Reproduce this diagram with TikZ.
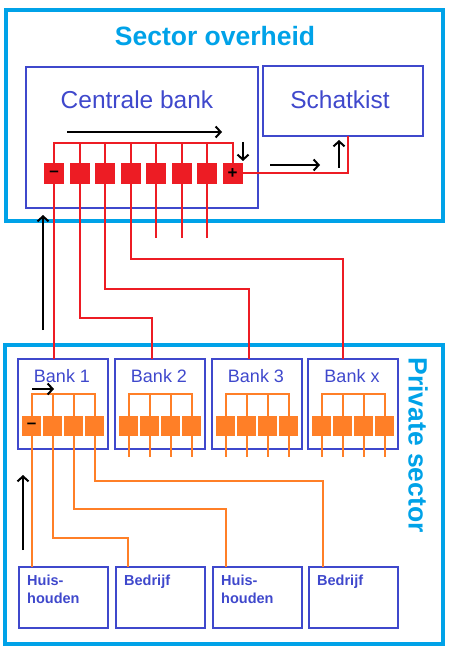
\documentclass[tikz,border=0pt]{standalone}
\usepackage{fontspec}
\setmainfont{Liberation Sans}
\usetikzlibrary{positioning,arrows.meta}
\definecolor{skyline}{HTML}{00A2E8}
\definecolor{boxblue}{HTML}{3F48CC}
\definecolor{cbred}{HTML}{ED1C24}
\definecolor{bkorange}{HTML}{FF7F27}
\tikzset{
	sector/.style={draw=skyline,line width=3.5pt},
	title/.style={text=skyline,font=\bfseries\fontsize{26.5}{30}\selectfont},
	instbox/.style={draw=boxblue,line width=2.5pt,anchor=north west,inner sep=0pt,outer sep=0pt},
	bigtext/.style={font=\fontsize{24.5}{28}\selectfont},
	banktext/.style={font=\fontsize{18}{21}\selectfont},
	smalltext/.style={font=\bfseries\fontsize{14.5}{18}\selectfont,align=left,anchor=north west,inner sep=0pt},
	redsq/.style={fill=cbred,minimum width=20pt,minimum height=21pt,inner sep=0pt,outer sep=0pt},
	orsq/.style={fill=bkorange,minimum width=19pt,minimum height=20pt,inner sep=0pt,outer sep=0pt},
	sign/.style={text=black,font=\bfseries\fontsize{17}{17}\selectfont,inner sep=0pt},
	redwire/.style={draw=cbred,line width=2pt},
	orwire/.style={draw=bkorange,line width=2pt},
	flow/.style={-{Straight Barb[length=5pt,width=11pt]},line width=2pt,black}
}
\begin{document}
\begin{tikzpicture}[x=1pt,y=-1pt,every node/.style={text=boxblue}]
	\useasboundingbox (0,0) rectangle (450,652);

	% sector overheid
	\draw[sector] (6,10) rectangle (443,221);
	\node[title] (overheid) at (215,36) {Sector overheid};
	\node[instbox,minimum width=232pt,minimum height=141pt] (cb) at (26,67) {};
	\node[bigtext] (cbtext) at (137,100) {Centrale bank};
	\node[instbox,minimum width=160pt,minimum height=70pt] (sk) at (263,66) {};
	\node[bigtext] (sktext) at (340,100) {Schatkist};

	\foreach \i in {1,...,8}
		\node[redsq] (cb\i) at ({28.5+25.5*\i},173.5) {};
	\node[sign] at (cb1) {--};
	\node[sign] at (cb8) {+};

	\draw[redwire] (cb1.north) -- ++(0,-20) -| (cb8.north);
	\foreach \i in {2,...,7}
		\draw[redwire] (cb\i.north) -- ++(0,-20);
	\draw[redwire] (cb8.east) -| ([xshift=85pt]sk.south west);

	% private sector
	\draw[sector] (5,345) rectangle (443,644);
	\node[title,rotate=-90] (private) at (418,445) {Private sector};

	\foreach \bk/\lx/\lab in {b1/18/Bank 1,b2/115/Bank 2,b3/212/Bank 3,bx/308/Bank x}{
		\node[instbox,minimum width=90pt,minimum height=90pt] (\bk) at (\lx,359) {};
		\node[banktext] at (\lx+44,376) {\lab};
		\foreach \k in {1,...,4}
			\node[orsq] (\bk-\k) at ({\lx-7.5+21*\k},426) {};
		\draw[orwire] (\bk-1.north) -- ++(0,-22) -| (\bk-4.north);
		\draw[orwire] (\bk-2.north) -- ++(0,-22);
		\draw[orwire] (\bk-3.north) -- ++(0,-22);
	}
	\node[sign] at (b1-1) {--};
	\foreach \bk in {b2,b3,bx}
		\foreach \k in {1,...,4}
			\draw[orwire] (\bk-\k.south) -- ++(0,21);

	\foreach \hh/\lx/\lab in {h1/19/{Huis-\\houden},f1/116/Bedrijf,h2/213/{Huis-\\houden},f2/309/Bedrijf}{
		\node[instbox,minimum width=89pt,minimum height=61pt] (\hh) at (\lx,567) {};
		\node[smalltext] at (\lx+8,575) {\lab};
	}

	% reserves from central bank to banks
	\draw[redwire] (cb1.south) -- (cb1.south |- b1.north);
	\draw[redwire] (cb2.south) |- ([shift={(37,-41)}]b2.north west) -- ([xshift=37pt]b2.north west);
	\draw[redwire] (cb3.south) |- ([shift={(37,-70)}]b3.north west) -- ([xshift=37pt]b3.north west);
	\draw[redwire] (cb4.south) |- ([shift={(35,-100)}]bx.north west) -- ([xshift=35pt]bx.north west);
	\foreach \i in {5,6,7}
		\draw[redwire] (cb\i.south) -- ++(0,54);

	% deposits from bank 1 to customers
	\draw[orwire] (b1-1.south) -- (b1-1.south |- h1.north);
	\draw[orwire] (b1-2.south) |- ([shift={(12,-29)}]f1.north west) -- ([xshift=12pt]f1.north west);
	\draw[orwire] (b1-3.south) |- ([shift={(13,-58)}]h2.north west) -- ([xshift=13pt]h2.north west);
	\draw[orwire] (b1-4.south) |- ([shift={(14,-86)}]f2.north west) -- ([xshift=14pt]f2.north west);

	% flow arrows
	\draw[flow] (67,132) -- (222,132);
	\draw[flow] (243,142) -- (243,161);
	\draw[flow] (270,165) -- (320,165);
	\draw[flow] (339,168) -- (339,140);
	\draw[flow] (43,330) -- (43,215);
	\draw[flow] (32,389) -- (54,389);
	\draw[flow] (23,550) -- (23,475);
\end{tikzpicture}
\end{document}
